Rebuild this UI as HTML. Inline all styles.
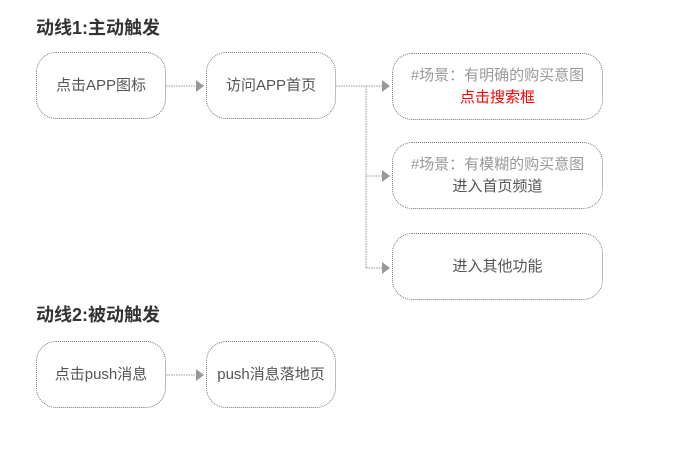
<!DOCTYPE html>
<html><head><meta charset="utf-8"><style>
body{margin:0;width:677px;height:449px;background:#fff;position:relative;font-family:"Liberation Sans","Noto Sans CJK SC",sans-serif;overflow:hidden}
.t{position:absolute;left:36px;font-size:18px;font-weight:bold;color:#333}
.b{position:absolute;box-sizing:border-box;border:1px dotted #777;border-radius:20px;display:flex;flex-direction:column;align-items:center;justify-content:center;font-size:15px;color:#555;line-height:22px;text-align:center}
.g{color:#999}.r{color:#f00}
svg{position:absolute;left:0;top:0}
</style></head><body>
<div class="t" style="top:14px">动线1:主动触发</div>
<div class="t" style="top:301px">动线2:被动触发</div>
<div class="b" style="left:36px;top:52px;width:130px;height:67px">点击APP图标</div>
<div class="b" style="left:206px;top:52px;width:130px;height:67px">访问APP首页</div>
<div class="b" style="left:392px;top:53px;width:211px;height:67px"><span class="g">#场景：有明确的购买意图</span><span class="r">点击搜索框</span></div>
<div class="b" style="left:392px;top:142px;width:211px;height:67px"><span class="g">#场景：有模糊的购买意图</span><span>进入首页频道</span></div>
<div class="b" style="left:392px;top:233px;width:211px;height:67px">进入其他功能</div>
<div class="b" style="left:36px;top:341px;width:130px;height:67px">点击push消息</div>
<div class="b" style="left:206px;top:341px;width:130px;height:67px">push消息落地页</div>
<svg width="677" height="449"><g stroke="#999" stroke-width="1" stroke-dasharray="1.5,1" fill="none">
<path d="M166 86H196"/><path d="M336 86H382"/><path d="M366 86V268"/><path d="M366 176H382"/><path d="M366 268H382"/><path d="M166 375H196"/></g>
<g fill="#999"><path d="M196 80L204 86L196 92Z"/><path d="M382 80L390 86L382 92Z"/><path d="M382 170L390 176L382 182Z"/><path d="M382 262L390 268L382 274Z"/><path d="M196 369L204 375L196 381Z"/></g></svg>
</body></html>
